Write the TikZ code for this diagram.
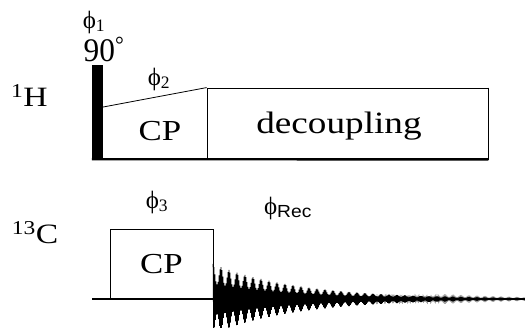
\documentclass[tikz,border=0pt]{standalone}
\usepackage{fontspec}
\setmainfont{Liberation Serif}[FakeStretch=1.2]
\setsansfont{Liberation Sans}[FakeStretch=1.1]
\usepackage{tikz}
\usetikzlibrary{positioning,calc}
\tikzset{
nmrlabel/.style={inner sep=0pt, font=\fontsize{28}{28}\selectfont},
nmrphase/.style={inner sep=0pt, font=\fontsize{25}{25}\selectfont\addfontfeature{FakeStretch=1}},
nmrbox/.style={draw, line width=0.8pt, inner sep=0pt, font=\fontsize{29}{29}\selectfont},
nmrpulse/.style={fill=black, inner sep=0pt, minimum width=11pt, minimum height=94pt},
nmrline/.style={line width=2.4pt},
nmrfid/.style={line width=0.55pt}
}
\begin{document}
\begin{tikzpicture}[x=1pt, y=-1pt]
\useasboundingbox (0,0) rectangle (525,328);

% 1H channel
\node[nmrlabel] (hlabel) at (29.5,96) {\textsuperscript{1}H};
\node[nmrpulse] (pulse) at (97.5,112) {};
\node[nmrbox, minimum width=281pt, minimum height=71pt] (dec) at (347.5,123.5) {};
\node[nmrlabel, font=\fontsize{31}{31}\selectfont] (dectext) at (339,126) {decoupling};
\node[nmrlabel, font=\fontsize{33}{33}\selectfont\addfontfeature{FakeStretch=0.95}] (angle) at (104,49) {90\textsuperscript{°}};
\node[nmrphase] (phione) at (94,22) {ϕ\textsubscript{1}};
\node[nmrphase] (phitwo) at (159,79) {ϕ\textsubscript{2}};
\node[nmrlabel, font=\fontsize{29}{29}\selectfont] (hcp) at (160,131) {CP};

\draw[line width=0.8pt] ([yshift=5pt]pulse.east) -- (dec.north west);
\draw[line width=1.6pt] (dec.north east) -- (dec.south east);
\draw[nmrline] (pulse.south west) -- (dec.south east);

% 13C channel
\node[nmrlabel] (clabel) at (35,233) {\textsuperscript{13}C};
\coordinate (cstart) at (92,299);
\coordinate (cend) at (525,299);
\node[nmrbox, minimum width=103pt, minimum height=70pt] (ccp) at (161.5,264) {CP};
\node[nmrphase] (phithree) at (157,202) {ϕ\textsubscript{3}};
\node[nmrphase] (phirec) at (288,208) {ϕ\textsubscript{\sffamily Rec}};

\draw[line width=1.8pt] (cstart) -- (cend);
\draw[nmrfid] (ccp.south east) -- ++(0,-42)
  plot[domain=0:624, samples=625]
  ({213+\x/2}, {299-(1-2*mod(round(\x),2))*35*exp(-\x/172)*(0.72+0.28*cos(\x*22.5))});
\end{tikzpicture}
\end{document}
